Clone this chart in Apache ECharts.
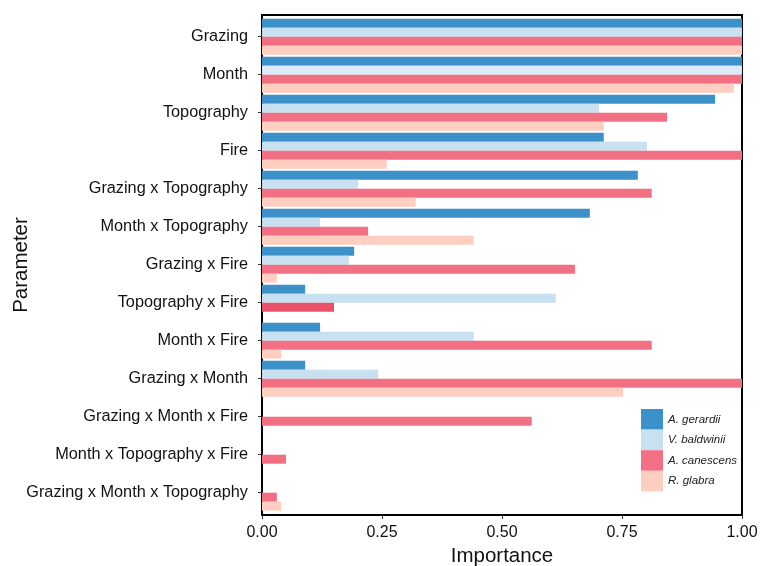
<!DOCTYPE html>
<html>
<head>
<meta charset="utf-8">
<script src="https://cdn.jsdelivr.net/npm/echarts@6/dist/echarts.min.js"></script>
<style>
  html, body { margin: 0; padding: 0; background: #fff; }
  #chart { width: 769px; height: 566px; }
</style>
</head>
<body>
<div id="chart"></div>
<script>
const categories = ['Grazing', 'Month', 'Topography', 'Fire', 'Grazing x Topography', 'Month x Topography',
  'Grazing x Fire', 'Topography x Fire', 'Month x Fire', 'Grazing x Month', 'Grazing x Month x Fire',
  'Month x Topography x Fire', 'Grazing x Month x Topography']
const gerardii = [1, 1, 0.944, 0.712, 0.783, 0.683, 0.192, 0.09, 0.121, 0.09, 0, 0, 0]
const baldwinii = [1, 1, 0.702, 0.802, 0.2, 0.121, 0.181, 0.612, 0.441, 0.242, 0, 0, 0]
const canescens = [1, 1, 0.844, 1, 0.812, 0.221, 0.652, 0.15, 0.812, 1, 0.562, 0.05, 0.031]
const glabra = [1, 0.983, 0.712, 0.26, 0.32, 0.441, 0.031, 0, 0.04, 0.752, 0, 0, 0.04]
const xTicks = ['0.00', '0.25', '0.50', '0.75', '1.00']

const font = 'Liberation Sans, Arial, sans-serif'
const chart = echarts.init(document.getElementById('chart'))

// a couple of bars in the original are drawn a shade off the series colour
function bar(name, data, color, tint) {
  return {
    name: name,
    type: 'bar',
    xAxisIndex: 1,
    yAxisIndex: 1,
    data: data.map((v, i) => (tint && tint[i]) ? { value: v, itemStyle: { color: tint[i] } } : v),
    barWidth: 9,
    barGap: '0%',
    itemStyle: { color: color },
    emphasis: { disabled: true }
  }
}

chart.setOption({
  animation: false,
  grid: [
    // frame + value axis
    { left: 262, right: 27, top: 15, bottom: 51, outerBoundsMode: 'none', show: true, borderColor: '#000', borderWidth: 2 },
    // bars, category band padded like ggplot's expansion
    { left: 262, right: 27, top: 17.7, bottom: 54.3, outerBoundsMode: 'none' }
  ],
  legend: {
    orient: 'vertical',
    left: 641,
    top: 409,
    padding: 0,
    itemWidth: 22,
    itemHeight: 20.6,
    itemGap: 0,
    icon: 'rect',
    textStyle: { fontFamily: font, fontSize: 11.5, fontStyle: 'italic', color: '#222' },
    data: ['A. gerardii', 'V. baldwinii', 'A. canescens', 'R. glabra']
  },
  xAxis: [
    {
      gridIndex: 0,
      type: 'value',
      min: 0,
      max: 1,
      interval: 0.25,
      name: 'Importance',
      nameLocation: 'middle',
      nameGap: 26,
      nameTextStyle: { fontFamily: font, fontSize: 20.5, color: '#111' },
      axisLine: { show: true, lineStyle: { color: '#000', width: 2 } },
      axisTick: { show: true, length: 4, lineStyle: { color: '#333' } },
      axisLabel: {
        fontFamily: font, fontSize: 16, color: '#111', margin: 10,
        formatter: v => xTicks[Math.round(v / 0.25)]
      },
      splitLine: { show: false }
    },
    { gridIndex: 1, type: 'value', min: 0, max: 1, show: false }
  ],
  yAxis: [
    {
      gridIndex: 0,
      type: 'value',
      min: 0,
      max: 1,
      name: 'Parameter',
      nameLocation: 'middle',
      nameGap: 230,
      nameRotate: 90,
      nameTextStyle: { fontFamily: font, fontSize: 20.5, color: '#111' },
      axisLine: { show: true, lineStyle: { color: '#000', width: 2 } },
      axisTick: { show: false },
      axisLabel: { show: false },
      splitLine: { show: false }
    },
    {
      gridIndex: 1,
      type: 'category',
      inverse: true,
      data: categories,
      axisLine: { show: false },
      axisTick: { show: true, length: 4, alignWithLabel: true, lineStyle: { color: '#333' } },
      axisLabel: { fontFamily: font, fontSize: 16.3, color: '#111', margin: 14, padding: [4, 0, 0, 0] }
    }
  ],
  series: [
    bar('A. gerardii', gerardii, '#3c91c8'),
    bar('V. baldwinii', baldwinii, '#c7e1f0', { 1: '#dbeaf6' }),
    bar('A. canescens', canescens, '#f36f84', { 7: '#e9516a' }),
    bar('R. glabra', glabra, '#fecec1')
  ]
})
</script>
</body>
</html>
